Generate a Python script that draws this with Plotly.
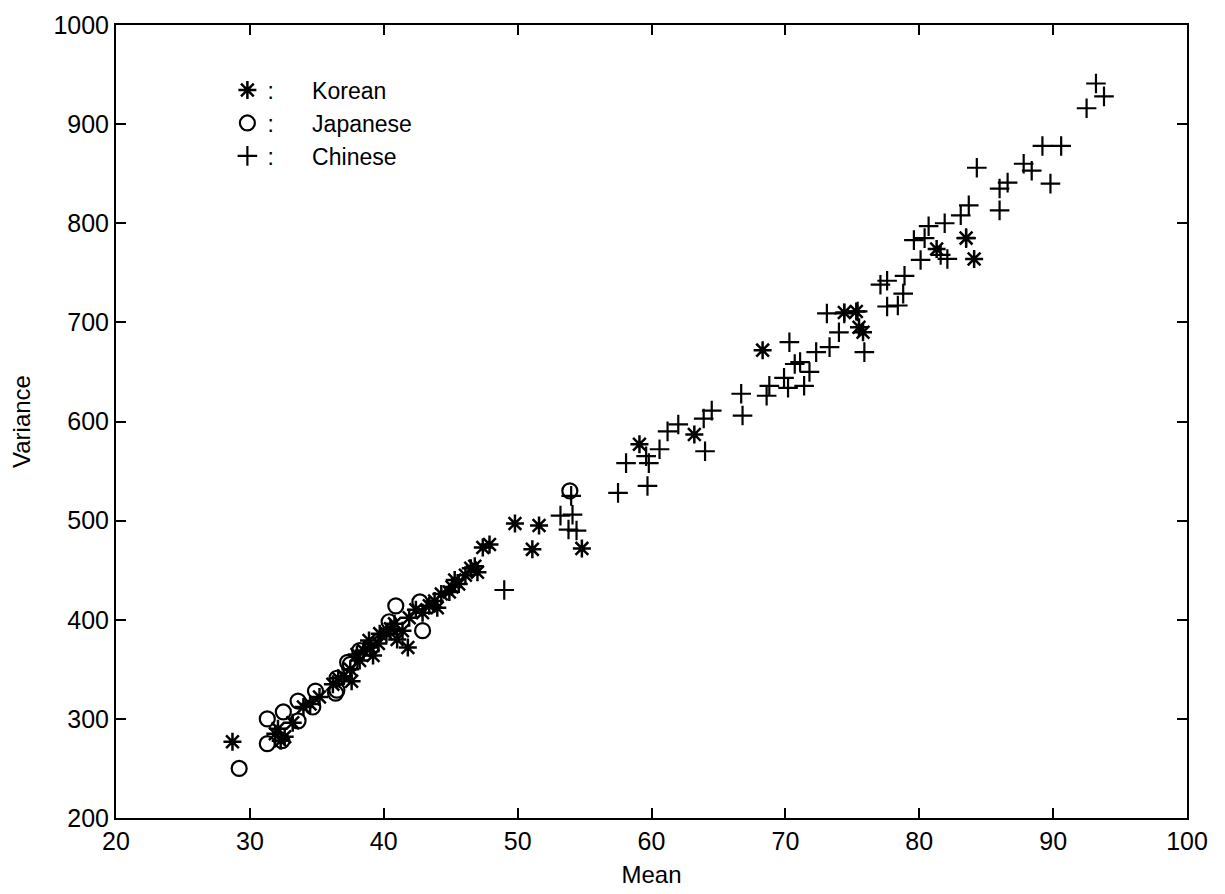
import plotly.graph_objects as go

# ---- data ----
korean_mean = [28.7, 32.1, 32.6, 32.3, 31.9, 34.0, 34.5, 36.2, 37.0, 37.6, 37.5, 38.0, 38.2,
               38.5, 38.9, 39.2, 39.6, 39.7, 40.2, 40.8, 41.4, 41.8, 41.9, 42.9, 43.4, 44.0,
               44.3, 44.9, 45.1, 45.6, 46.8, 47.0, 47.4, 47.9, 49.8, 51.6, 51.1, 54.8, 59.1,
               63.2, 68.3, 74.4, 75.3, 75.5, 75.8, 81.3, 83.5, 84.1,
               36.6, 39.0, 40.5, 41.0, 42.4, 43.8, 45.3, 46.1, 46.5, 33.2, 35.2]
korean_var = [277, 290, 282, 278, 285, 312, 315, 335, 343, 338, 350, 365, 359,
              369, 379, 364, 376, 386, 386, 396, 389, 372, 402, 407, 414, 412,
              426, 428, 433, 436, 454, 448, 473, 476, 497, 495, 471, 472, 577,
              587, 672, 710, 711, 695, 690, 774, 785, 764,
              341, 372, 391, 380, 410, 419, 440, 445, 452, 296, 322]

japanese_mean = [29.2, 31.3, 32.4, 31.3, 32.5, 33.6, 33.6, 34.9, 34.7, 36.5, 36.5, 36.4,
                 37.5, 38.2, 37.3, 40.4, 40.9, 42.7, 42.9, 53.9]
japanese_var = [250, 275, 278, 300, 307, 298, 318, 328, 312, 329, 341, 326,
                355, 369, 357, 398, 414, 418, 389, 530]

chinese_mean = [49.0, 53.2, 54.1, 53.8, 54.4, 54.0, 57.5, 58.1, 59.7, 59.8, 59.6, 60.6,
                61.2, 62.0, 64.0, 63.9, 64.5, 66.7, 66.8, 68.8, 68.6, 69.9, 70.2, 71.4,
                70.7, 71.1, 71.8, 70.3, 72.3, 73.3, 74.0, 73.1, 75.9, 75.4, 77.1, 77.6,
                77.6, 78.4, 78.8, 78.9, 80.1, 81.6, 82.1, 79.6, 80.4, 80.7, 81.9, 83.1,
                83.7, 83.5, 84.3, 86.0, 86.0, 86.6, 87.8, 88.4, 89.2, 89.8, 90.6, 92.5,
                93.2, 93.8, 74.4]
chinese_var = [430, 505, 506, 491, 490, 525, 528, 558, 535, 558, 565, 572,
               590, 597, 570, 603, 611, 628, 606, 636, 626, 644, 634, 636,
               658, 660, 650, 680, 670, 675, 690, 709, 670, 711, 738, 742,
               716, 717, 729, 747, 763, 768, 764, 783, 785, 797, 800, 808,
               818, 785, 856, 835, 813, 841, 860, 853, 878, 840, 878, 916,
               941, 928, 709]

x_ticks = [20, 30, 40, 50, 60, 70, 80, 90, 100]
y_ticks = [200, 300, 400, 500, 600, 700, 800, 900, 1000]

NB = "\u00a0"
FONT = "Liberation Sans, Arial, Helvetica, sans-serif"

fig = go.Figure()
fig.add_trace(go.Scatter(
    x=korean_mean, y=korean_var, mode="markers", name=":" + NB * 6 + "Korean",
    marker=dict(symbol="asterisk-open", size=15, color="black",
                line=dict(color="black", width=2.5))))
fig.add_trace(go.Scatter(
    x=japanese_mean, y=japanese_var, mode="markers", name=":" + NB * 6 + "Japanese",
    marker=dict(symbol="circle-open", size=15, color="black",
                line=dict(color="black", width=2.2))))
fig.add_trace(go.Scatter(
    x=chinese_mean, y=chinese_var, mode="markers", name=":" + NB * 6 + "Chinese",
    marker=dict(symbol="cross-thin-open", size=14, color="black",
                line=dict(color="black", width=2.2))))

axis_common = dict(
    showline=True, linecolor="black", linewidth=2, mirror="ticks",
    ticks="inside", ticklen=10, tickwidth=2, tickcolor="black",
    showgrid=False, zeroline=False, automargin=False,
    ticklabeloverflow="allow",
    tickfont=dict(family=FONT, size=25, color="black"),
)

fig.update_layout(
    width=1225, height=894,
    margin=dict(l=108, r=46, t=17, b=84),
    paper_bgcolor="white", plot_bgcolor="white",
    font=dict(family=FONT, size=24, color="black"),
    xaxis=dict(range=[20, 100], tickvals=x_ticks, ticktext=[str(v) for v in x_ticks],
               title=dict(text="Mean", font=dict(family=FONT, size=24), standoff=12),
               **axis_common),
    yaxis=dict(range=[200, 1000], tickvals=y_ticks, ticktext=[str(v) for v in y_ticks],
               title=dict(text="Variance", font=dict(family=FONT, size=24), standoff=26),
               **axis_common),
    legend=dict(x=0.104, y=0.945, xanchor="left", yanchor="top",
                bgcolor="rgba(0,0,0,0)", borderwidth=0,
                font=dict(family=FONT, size=23, color="black"),
                itemwidth=30, tracegroupgap=0),
    showlegend=True,
)

fig.write_html("out.html")
